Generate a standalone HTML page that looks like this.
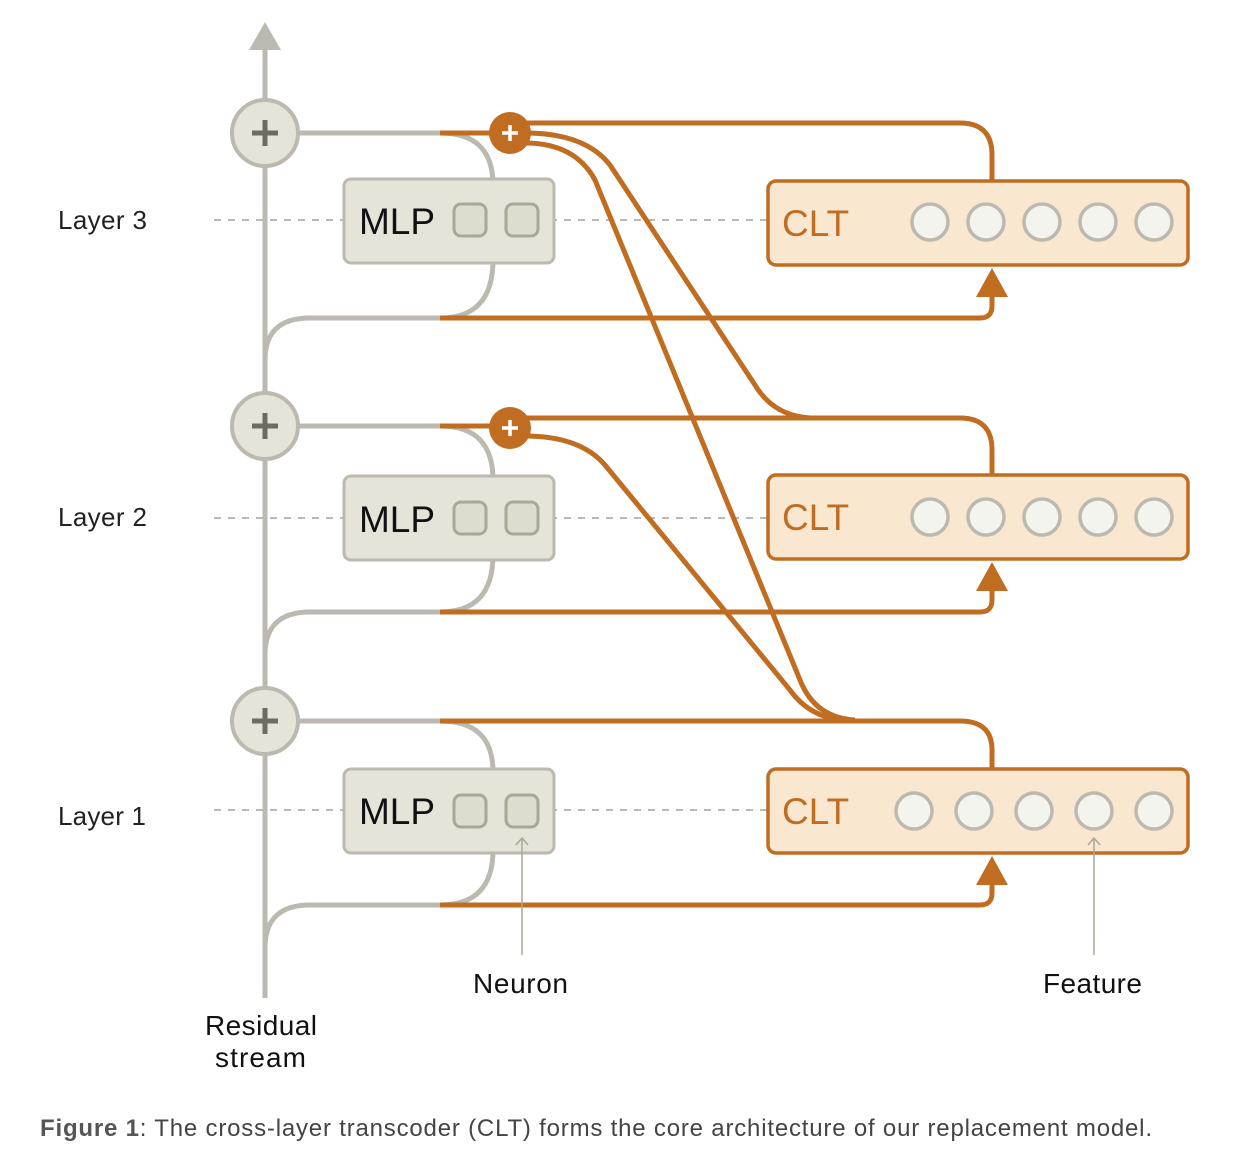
<!DOCTYPE html>
<html><head><meta charset="utf-8"><style>
html,body{margin:0;padding:0;background:#fff;}
svg{display:block;font-family:"Liberation Sans",sans-serif;}
</style></head><body>
<svg width="1260" height="1158" viewBox="0 0 1260 1158" xmlns="http://www.w3.org/2000/svg">
<g stroke="#bcb9b1" stroke-width="2" stroke-dasharray="7,7">
<line x1="214" y1="220" x2="768" y2="220"/>
<line x1="214" y1="518" x2="768" y2="518"/>
<line x1="214" y1="810" x2="768" y2="810"/>
</g>
<line x1="265" y1="998" x2="265" y2="45" stroke="#bcb9b1" stroke-width="5"/>
<polygon points="265,22 249,50 281,50" fill="#bcb9b1"/>
<g fill="none" stroke-width="5">
<g stroke="#bcb9b1">
<path d="M298,133 L440,133 Q493,133 493,185"/>
<path d="M265,360 Q265,318 310,318 L440,318 Q493,318 493,260"/>
<path d="M298,426 L440,426 Q493,426 493,480"/>
<path d="M265,655 Q265,612 310,612 L440,612 Q493,612 493,555"/>
<path d="M298,721 L440,721 Q493,721 493,772"/>
<path d="M265,948 Q265,905 310,905 L440,905 Q493,905 493,850"/>
</g>
<g stroke="#c06d22">
<path d="M440,133 L510,133"/>
<path d="M440,318 L980,318 Q992,318 992,306 L992,292"/>
<path d="M440,426 L510,426"/>
<path d="M440,612 L980,612 Q992,612 992,600 L992,586"/>
<path d="M440,905 L980,905 Q992,905 992,893 L992,880"/>
<path d="M510,123 L960,123 Q992,123 992,155 L992,181"/>
<path d="M510,418 L960,418 Q992,418 992,450 L992,475"/>
<path d="M440,721 L960,721 Q992,721 992,750 L992,769"/>
<path d="M525,133 Q585,133 610,165 L755,385 Q775,418 815,418"/>
<path d="M525,143 Q575,143 595,180 L800,680 Q815,718 855,720"/>
<path d="M525,436 Q580,436 605,465 L790,690 Q810,718 845,720"/>
</g>
</g>
<g>
<circle cx="265" cy="133" r="33" fill="#e6e4d9" stroke="#bcb9b1" stroke-width="4"/>
<circle cx="265" cy="426" r="33" fill="#e6e4d9" stroke="#bcb9b1" stroke-width="4"/>
<circle cx="265" cy="721" r="33" fill="#e6e4d9" stroke="#bcb9b1" stroke-width="4"/>
<g stroke="#6e6c60" stroke-width="5">
<path d="M252,133h26M265,120v26"/>
<path d="M252,426h26M265,413v26"/>
<path d="M252,721h26M265,708v26"/>
</g>
<circle cx="510" cy="133" r="21" fill="#c06d22"/>
<circle cx="510" cy="428" r="21" fill="#c06d22"/>
<g stroke="#fff" stroke-width="3.5">
<path d="M502,133h16M510,125v16"/>
<path d="M502,428h16M510,420v16"/>
</g>
</g>
<g>
<rect x="344" y="179" width="210" height="84" rx="7" fill="#e6e3d8" stroke="#bcb9b1" stroke-width="3"/>
<rect x="344" y="476" width="210" height="84" rx="7" fill="#e6e3d8" stroke="#bcb9b1" stroke-width="3"/>
<rect x="344" y="769" width="210" height="84" rx="7" fill="#e6e3d8" stroke="#bcb9b1" stroke-width="3"/>
<g fill="#dedbcf" stroke="#aaa798" stroke-width="3">
<rect x="454" y="204" width="32" height="32" rx="7"/><rect x="506" y="204" width="32" height="32" rx="7"/>
<rect x="454" y="502" width="32" height="32" rx="7"/><rect x="506" y="502" width="32" height="32" rx="7"/>
<rect x="454" y="795" width="32" height="32" rx="7"/><rect x="506" y="795" width="32" height="32" rx="7"/>
</g>
<g font-size="37" fill="#111">
<text x="359" y="234" textLength="76">MLP</text><text x="359" y="532" textLength="76">MLP</text><text x="359" y="824" textLength="76">MLP</text>
</g>
</g>
<g>
<rect x="768" y="181" width="420" height="84" rx="8" fill="#fae7d0" stroke="#c06d22" stroke-width="3.5"/>
<rect x="768" y="475" width="420" height="84" rx="8" fill="#fae7d0" stroke="#c06d22" stroke-width="3.5"/>
<rect x="768" y="769" width="420" height="84" rx="8" fill="#fae7d0" stroke="#c06d22" stroke-width="3.5"/>
<g font-size="37" fill="#c06d22">
<text x="782" y="236">CLT</text><text x="782" y="530">CLT</text><text x="782" y="824">CLT</text>
</g>
<g fill="#f4f4ef" stroke="#bcb9b1" stroke-width="3.5">
<circle cx="930" cy="222" r="18"/><circle cx="986" cy="222" r="18"/><circle cx="1042" cy="222" r="18"/><circle cx="1098" cy="222" r="18"/><circle cx="1154" cy="222" r="18"/>
<circle cx="930" cy="517" r="18"/><circle cx="986" cy="517" r="18"/><circle cx="1042" cy="517" r="18"/><circle cx="1098" cy="517" r="18"/><circle cx="1154" cy="517" r="18"/>
<circle cx="914" cy="811" r="18"/><circle cx="974" cy="811" r="18"/><circle cx="1034" cy="811" r="18"/><circle cx="1094" cy="811" r="18"/><circle cx="1154" cy="811" r="18"/>
</g>
</g>
<g fill="#c06d22">
<polygon points="992,268 976,297 1008,297"/>
<polygon points="992,562 976,591 1008,591"/>
<polygon points="992,856 976,885 1008,885"/>
</g>
<g stroke="#aaa798" stroke-width="1.5" fill="none">
<path d="M522,955V838M516,845l6,-7l6,7"/>
<path d="M1094,955V838M1088,845l6,-7l6,7"/>
</g>
<g font-size="26" fill="#222">
<text x="58" y="229" textLength="89">Layer 3</text>
<text x="58" y="526" textLength="89">Layer 2</text>
<text x="58" y="825" textLength="88">Layer 1</text>
<text x="473" y="993" font-size="28" textLength="95" fill="#111">Neuron</text>
<text x="1043" y="993" font-size="28" textLength="99" fill="#111">Feature</text>
<text x="205" y="1035" font-size="28" textLength="112" fill="#111">Residual</text>
<text x="215" y="1067" font-size="28" textLength="91" fill="#111">stream</text>
</g>
<text x="40" y="1136" font-size="24" fill="#444" textLength="1112"><tspan font-weight="bold" fill="#555">Figure 1</tspan>: The cross-layer transcoder (CLT) forms the core architecture of our replacement model.</text>
</svg>
</body></html>
